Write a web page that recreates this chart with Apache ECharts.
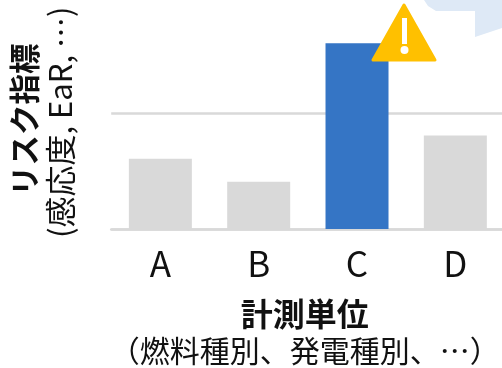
<!DOCTYPE html>
<html><head><meta charset="utf-8">
<style>html,body{margin:0;padding:0;background:#fff}#c{width:502px;height:368px}</style>
<script src="https://cdn.jsdelivr.net/npm/echarts@6/dist/echarts.min.js"></script>
</head><body><div id="c"></div>
<script>
const categories = ['A','B','C','D'];
const values = [61, 41, 161, 81];
const colors = ['#d9d9d9','#d9d9d9','#3575c5','#d9d9d9'];
const xTitle = '計測単位';
const xSub = '（燃料種別、発電種別、…）';
const yTitle = 'リスク指標';
const ySub = '(感応度, EaR, …)';
const font = '"Noto Sans CJK JP","Noto Sans",sans-serif';
const chart = echarts.init(document.getElementById('c'), null, {renderer:'canvas'});
chart.setOption({
  animation:false,
  grid:{left:111.2,right:-2.5,top:-117,bottom:139,outerBoundsMode:'none'},
  xAxis:{type:'category',data:categories,
    axisLine:{lineStyle:{color:'#d9d9d9',width:2.5}},axisTick:{show:false},
    axisLabel:{color:'#111',fontSize:35,fontFamily:font,margin:17},
    name:'{a|'+xTitle+'}\n{b|'+xSub+'}',nameLocation:'middle',nameGap:66,
    nameTextStyle:{padding:[0,6,0,0],rich:{
      a:{fontSize:32,fontWeight:'bold',color:'#111',fontFamily:font,lineHeight:37},
      b:{fontSize:30,color:'#111',fontFamily:font,lineHeight:38}}}
  },
  yAxis:{type:'value',min:0,max:300,interval:100,
    axisLine:{show:false},axisTick:{show:false},axisLabel:{show:false},
    splitLine:{lineStyle:{color:'#d9d9d9',width:2.5}}
  },
  series:[{type:'bar',barWidth:63,data:values.map((v,i)=>({value:v,itemStyle:{color:colors[i]}}))}],
  graphic:[
    {type:'text',rotation:Math.PI/2,x:9,y:196,z:10,style:{text:yTitle,font:'bold 30.5px '+font,fill:'#111'}},
    {type:'text',rotation:Math.PI/2,x:45,y:238,z:10,style:{text:ySub,font:'31px '+font,fill:'#111'}},
    {type:'polygon',z:0,shape:{points:[[424,0],[428,6],[436,11],[475,11],[475,37],[502,28],[502,0]]},style:{fill:'#dee9f6'}},
    {type:'polygon',z:20,shape:{points:[[404,5],[435,60],[373,60]]},style:{fill:'#ffc000',stroke:'#ffc000',lineWidth:3,lineJoin:'round'}},
    {type:'rect',z:21,shape:{x:402,y:18,width:5,height:26},style:{fill:'#fff'}},
    {type:'circle',z:21,shape:{cx:404.5,cy:50,r:4},style:{fill:'#fff'}}
  ]
});
</script></body></html>
